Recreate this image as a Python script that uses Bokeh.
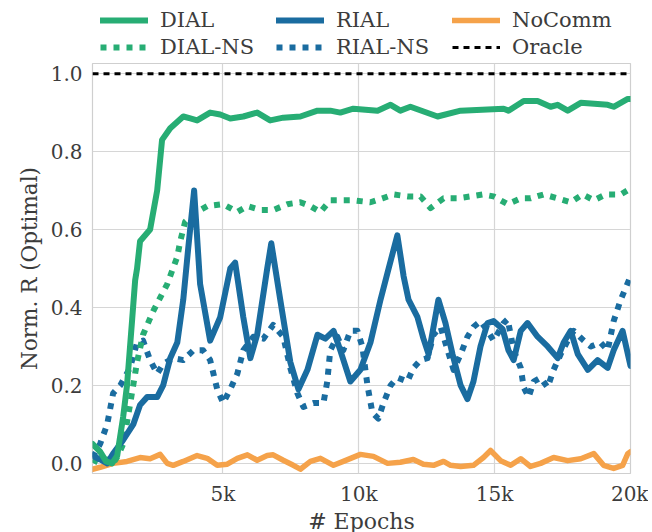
import numpy as np
from bokeh.plotting import figure
from bokeh.layouts import column
from bokeh.models import Legend, LegendItem, FixedTicker, Range1d
from bokeh.embed import file_html
from bokeh.resources import INLINE

# ---------------- data ----------------
dial_x = [200, 480, 700, 920, 1110, 1330, 1470, 1660, 1770, 1840, 1950, 2320, 2580, 2760, 3060,
          3540, 3800, 4050, 4530, 4900, 5270, 5750, 6260, 6740, 7220, 7850, 8480, 8950, 9320,
          9800, 10690, 11170, 11530, 11900, 12900, 13750, 15330, 15510, 16070, 16580, 17060,
          17320, 17690, 18170, 19160, 19380, 19900, 20000]
dial_y = [0.05, 0.03, 0.005, 0.0, 0.02, 0.12, 0.2, 0.37, 0.47, 0.5, 0.57, 0.6, 0.70, 0.83, 0.86,
          0.89, 0.885, 0.88, 0.90, 0.895, 0.885, 0.89, 0.90, 0.88, 0.887, 0.89, 0.905, 0.905, 0.90,
          0.91, 0.905, 0.92, 0.905, 0.915, 0.89, 0.905, 0.91, 0.905, 0.93, 0.93, 0.915,
          0.92, 0.905, 0.925, 0.92, 0.915, 0.935, 0.935]

dialns_x = [200, 480, 740, 960, 1140, 1330, 1580, 1840, 2060, 2430, 2950, 3320, 3430, 3610, 3910,
            4420, 5010, 5530, 5900, 6380, 6850, 7370, 7850, 8220, 8590, 8950, 9800, 10430, 10870,
            11280, 11790, 12270, 12640, 13120, 13630, 14110, 14560, 14960, 15480, 15960, 16320,
            16800, 17320, 17800, 18240, 18650, 19090, 19640, 20000]
dialns_y = [0.01, 0.0, 0.01, 0.0, 0.02, 0.05, 0.15, 0.26, 0.33, 0.39, 0.46, 0.53, 0.57, 0.62, 0.64,
            0.66, 0.665, 0.645, 0.66, 0.65, 0.65, 0.665, 0.67, 0.66, 0.645, 0.675, 0.675, 0.67, 0.68,
            0.69, 0.685, 0.685, 0.655, 0.68, 0.68, 0.685, 0.69, 0.685, 0.665, 0.68, 0.68,
            0.69, 0.68, 0.67, 0.69, 0.675, 0.69, 0.69, 0.705]

rial_x = [200, 480, 740, 960, 1330, 1700, 1950, 2210, 2580, 2800, 3060, 3320, 3540, 3720, 3940,
          4160, 4530, 4900, 5270, 5450, 5750, 6010, 6260, 6630, 6780, 7110, 7480, 7780, 8110,
          8480, 8770, 9070, 9320, 9690, 10060, 10430, 10800, 11060, 11420, 11650, 11830, 12160,
          12380, 12570, 12750, 12930, 13190, 13450, 13750, 14000, 14220, 14480, 14740, 14960,
          15290, 15510, 15700, 15960, 16210, 16580, 16950, 17320, 17540, 17800, 18060, 18430,
          18790, 19160, 19380, 19710, 20000]
rial_y = [0.02, 0.01, 0.0, 0.025, 0.06, 0.10, 0.15, 0.17, 0.17, 0.2, 0.27, 0.31, 0.42, 0.55, 0.70,
          0.46, 0.315, 0.375, 0.50, 0.515, 0.375, 0.27, 0.33, 0.5, 0.565, 0.42, 0.26, 0.19, 0.24,
          0.33, 0.32, 0.34, 0.29, 0.21, 0.24, 0.31, 0.42, 0.49, 0.585, 0.48, 0.42, 0.375,
          0.32, 0.28, 0.35, 0.42, 0.36, 0.28, 0.20, 0.165, 0.21, 0.30, 0.36, 0.365,
          0.345, 0.29, 0.265, 0.34, 0.36, 0.325, 0.30, 0.27, 0.31, 0.34, 0.28, 0.24,
          0.265, 0.245, 0.29, 0.34, 0.25]

rialns_x = [200, 480, 740, 960, 1220, 1580, 1840, 2060, 2320, 2580, 2800, 3170, 3540, 3910, 4270,
            4530, 4790, 5010, 5270, 5530, 5750, 6120, 6490, 6850, 7220, 7480, 7740, 7960, 8330,
            8700, 8840, 8950, 9210, 9430, 9690, 9950, 10130, 10320, 10500, 10720, 10910, 11170,
            11420, 11790, 12010, 12270, 12530, 12750, 13010, 13270, 13490, 13750, 14000, 14220,
            14480, 14740, 14960, 15330, 15480, 15700, 15960, 16070, 16250, 16440, 16690, 16950,
            17170, 17430, 17690, 17910, 18280, 18540, 18900, 19160, 19380, 19640, 20000]
rialns_y = [0.015, 0.05, 0.10, 0.18, 0.20, 0.245, 0.31, 0.315, 0.265, 0.23, 0.255, 0.27, 0.265,
            0.29, 0.29, 0.265, 0.19, 0.155, 0.19, 0.23, 0.29, 0.325, 0.32, 0.355, 0.325, 0.245,
            0.18, 0.145, 0.155, 0.155, 0.21, 0.29, 0.325, 0.29, 0.34, 0.34, 0.30, 0.20, 0.13,
            0.115, 0.155, 0.20, 0.22, 0.21, 0.245, 0.265, 0.27, 0.33, 0.35, 0.29, 0.24, 0.28,
            0.325, 0.35, 0.365, 0.34, 0.315, 0.36, 0.37, 0.29, 0.245, 0.195, 0.17, 0.21, 0.22,
            0.195, 0.24, 0.28, 0.315, 0.34, 0.315, 0.30, 0.31, 0.29, 0.365, 0.42, 0.48]

nocomm_x = [200, 480, 960, 1470, 1950, 2320, 2690, 2950, 3170, 3540, 4050, 4420, 4790, 5160, 5530,
            5900, 6260, 6630, 6850, 7220, 7590, 7850, 8220, 8590, 9070, 9430, 10060, 10540, 11060,
            11530, 12010, 12380, 12750, 13120, 13380, 13750, 14220, 14590, 14850, 15220, 15590,
            15960, 16320, 16690, 17170, 17690, 18170, 18650, 19010, 19380, 19710, 19900, 20000]
nocomm_y = [-0.015, -0.01, 0.0, 0.005, 0.015, 0.012, 0.023, 0.0, -0.005, 0.005, 0.02, 0.013, -0.005,
            -0.002, 0.013, 0.022, 0.008, 0.02, 0.022, 0.008, -0.005, -0.015, 0.005, 0.013, -0.005,
            0.005, 0.023, 0.018, 0.0, 0.003, 0.01, -0.002, -0.005, 0.005, -0.005, -0.008, -0.005,
            0.015, 0.033, 0.007, -0.005, 0.012, -0.008, 0.0, 0.015, 0.007, 0.012, 0.025, -0.005,
            -0.013, -0.005, 0.025, 0.03]

oracle_x = [200, 20000]
oracle_y = [1.0, 1.0]

series_names = ["DIAL", "RIAL", "NoComm", "DIAL-NS", "RIAL-NS", "Oracle"]

x_ticks = [5000, 10000, 15000, 20000]
x_tick_labels = ["5k", "10k", "15k", "20k"]
y_ticks = [0.0, 0.2, 0.4, 0.6, 0.8, 1.0]

# ---------------- style ----------------
GREEN = "#27ad74"
BLUE = "#1a6ca0"
ORANGE = "#f5a24a"
FONT = "DejaVu Serif"
TXT = "#3c3c3c"

styles = {
    "DIAL": dict(line_color=GREEN, line_width=6, line_cap="round", line_join="round"),
    "RIAL": dict(line_color=BLUE, line_width=6, line_cap="round", line_join="round"),
    "NoComm": dict(line_color=ORANGE, line_width=5.5, line_cap="round", line_join="round"),
    "DIAL-NS": dict(line_color=GREEN, line_width=6, line_dash="6 7", line_join="round"),
    "RIAL-NS": dict(line_color=BLUE, line_width=6, line_dash="6 7", line_join="round"),
    "Oracle": dict(line_color="black", line_width=3, line_dash="6 5"),
}

# ---------------- main plot ----------------
p = figure(frame_width=538, frame_height=410, output_backend="svg", toolbar_location=None,
           x_range=Range1d(200, 20000), y_range=Range1d(-0.026, 1.026),
           min_border_left=92, min_border_right=18, min_border_top=1, min_border_bottom=57)

p.background_fill_color = "white"
p.border_fill_color = "white"
p.outline_line_color = "#cfcfcf"
p.outline_line_width = 1.2

for g in (p.xgrid[0], p.ygrid[0]):
    g.grid_line_color = "#d6d6d6"
    g.grid_line_width = 1.2

p.xaxis.ticker = FixedTicker(ticks=x_ticks)
p.xaxis.major_label_overrides = {t: l for t, l in zip(x_ticks, x_tick_labels)}
p.yaxis.ticker = FixedTicker(ticks=y_ticks)
p.yaxis.major_label_overrides = {t: f"{t:.1f}" for t in y_ticks}

for ax in (p.xaxis[0], p.yaxis[0]):
    ax.axis_line_color = None
    ax.major_tick_line_color = None
    ax.minor_tick_line_color = None
    ax.major_tick_in = 0
    ax.major_tick_out = 0
    ax.minor_tick_in = 0
    ax.minor_tick_out = 0
    ax.major_label_text_font = FONT
    ax.major_label_text_font_size = "20px"
    ax.major_label_text_color = TXT
    ax.axis_label_text_font = FONT
    ax.axis_label_text_font_style = "normal"
    ax.axis_label_text_color = TXT

p.xaxis.axis_label = "# Epochs"
p.xaxis.axis_label_text_font_size = "22px"
p.xaxis.major_label_standoff = 8
p.xaxis.axis_label_standoff = 0
p.yaxis.axis_label = "Norm. R (Optimal)"
p.yaxis.axis_label_text_font_size = "21.5px"
p.yaxis.major_label_standoff = 10
p.yaxis.axis_label_standoff = 6

p.line(oracle_x, oracle_y, **styles["Oracle"])
p.line(nocomm_x, nocomm_y, **styles["NoComm"])
p.line(rialns_x, rialns_y, **styles["RIAL-NS"])
p.line(dialns_x, dialns_y, **styles["DIAL-NS"])
p.line(rial_x, rial_y, **styles["RIAL"])
p.line(dial_x, dial_y, **styles["DIAL"])

# ---------------- legend strip above the plot ----------------
lg = figure(width=648, height=62, output_backend="svg", toolbar_location=None,
            x_range=Range1d(0, 1), y_range=Range1d(0, 1),
            x_axis_location=None, y_axis_location=None,
            min_border_left=92, min_border_right=18, min_border_top=0, min_border_bottom=0)
lg.grid.visible = False
lg.outline_line_color = None
lg.background_fill_color = "white"
lg.border_fill_color = "white"

items = []
for name in series_names:
    # proxy renderers (a single NaN point, never drawn) that only carry the legend style
    r = lg.line(np.array([np.nan]), np.array([np.nan]), **styles[name])
    items.append(LegendItem(label=name, renderers=[r]))

legend = Legend(items=items, location=(8, 3), orientation="horizontal", ncols=3,
                label_text_font=FONT, label_text_font_size="21px", label_text_color=TXT,
                glyph_width=48, glyph_height=24, label_height=24, label_width=113,
                label_standoff=12, spacing=3, padding=2, margin=0,
                border_line_color=None, background_fill_alpha=0)
lg.add_layout(legend, "center")

layout = column(lg, p, spacing=0)
open("out.html", "w").write(file_html(layout, INLINE))
